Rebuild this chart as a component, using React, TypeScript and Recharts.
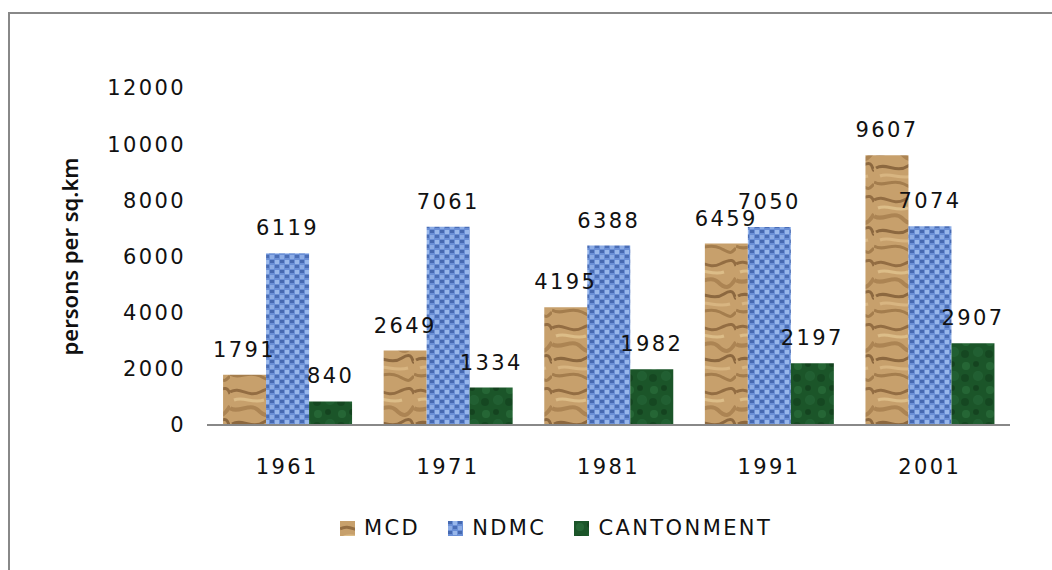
import { BarChart, Bar, XAxis, YAxis, Legend, LabelList } from 'recharts';

const years = ['1961', '1971', '1981', '1991', '2001'];
const mcd = [1791, 2649, 4195, 6459, 9607];
const ndmc = [6119, 7061, 6388, 7050, 7074];
const cantonment = [840, 1334, 1982, 2197, 2907];
const yTicks = [0, 2000, 4000, 6000, 8000, 10000, 12000];

const series = [
    { key: 'MCD', fill: 'url(#texMcd)' },
    { key: 'NDMC', fill: 'url(#texNdmc)' },
    { key: 'CANTONMENT', fill: 'url(#texCant)' },
];

const data = years.map((year, i) => ({
    year,
    MCD: mcd[i],
    NDMC: ndmc[i],
    CANTONMENT: cantonment[i],
}));

const FONT = '"DejaVu Sans", Verdana, sans-serif';
const textStyle = { fontFamily: FONT, fontSize: 21, fill: '#111', letterSpacing: 2.4 };

const Textures = () => (
    <defs>
        <pattern id="texMcd" patternUnits="userSpaceOnUse" width="46" height="64">
            <rect width="46" height="64" fill="#c7a06c" />
            <path d="M0 8 C10 2 18 14 30 8 S44 4 46 10" stroke="#7d5730" strokeWidth="3" fill="none" opacity="0.7" />
            <path d="M0 24 C8 30 20 18 28 26 S40 32 46 22" stroke="#9a7142" strokeWidth="4" fill="none" opacity="0.6" />
            <path d="M2 40 C12 34 22 46 34 38 S44 44 46 42" stroke="#6e4a26" strokeWidth="3" fill="none" opacity="0.65" />
            <path d="M0 54 C10 60 18 50 30 56 S40 62 46 56" stroke="#8c6538" strokeWidth="3" fill="none" opacity="0.6" />
            <path d="M4 16 C14 12 22 20 34 16" stroke="#e6c995" strokeWidth="3" fill="none" opacity="0.7" />
            <path d="M6 48 C16 44 26 52 40 48" stroke="#e2c38f" strokeWidth="3" fill="none" opacity="0.6" />
        </pattern>
        <pattern id="texNdmc" patternUnits="userSpaceOnUse" width="10" height="10">
            <rect width="10" height="10" fill="#6a8fd6" />
            <rect x="0" y="0" width="4" height="3" fill="#3d5fa8" opacity="0.8" />
            <rect x="5" y="5" width="4" height="3" fill="#3d5fa8" opacity="0.7" />
            <rect x="5" y="0" width="4" height="4" fill="#a4c0f0" opacity="0.8" />
            <rect x="0" y="5" width="4" height="4" fill="#9ab8ec" opacity="0.7" />
        </pattern>
        <pattern id="texCant" patternUnits="userSpaceOnUse" width="24" height="24">
            <rect width="24" height="24" fill="#1b5529" />
            <circle cx="6" cy="6" r="4" fill="#2b723d" opacity="0.6" />
            <circle cx="18" cy="16" r="5" fill="#286a3b" opacity="0.5" />
            <circle cx="16" cy="4" r="3" fill="#113c1b" opacity="0.7" />
            <circle cx="5" cy="18" r="4" fill="#12411e" opacity="0.7" />
        </pattern>
    </defs>
);

const renderLegend = () => (
    <div style={{ display: 'flex', alignItems: 'center', paddingLeft: 340, fontFamily: FONT, fontSize: 21, color: '#111', letterSpacing: 2.4 }}>
        {series.map((s) => (
            <div key={s.key} style={{ display: 'flex', alignItems: 'center', marginRight: 28 }}>
                <svg width="15" height="15" style={{ marginRight: 9 }}>
                    <rect width="15" height="15" fill={s.fill} />
                </svg>
                <span>{s.key}</span>
            </div>
        ))}
    </div>
);

export default function App() {
    return (
        <div style={{ position: 'fixed', left: 0, top: 0, width: 1052, height: 570, background: '#fff', overflow: 'hidden' }}>
            <div
                style={{
                    position: 'absolute',
                    left: 8,
                    top: 12,
                    width: 1100,
                    height: 620,
                    border: '2px solid #888',
                }}
            />
            <div style={{ position: 'absolute', left: 0, top: 0 }}>
                <BarChart
                    width={1052}
                    height={570}
                    data={data}
                    margin={{ top: 88, right: 42, left: 87, bottom: 30 }}
                    barCategoryGap="10%"
                    barGap={0}
                >
                    <Textures />
                    <XAxis
                        dataKey="year"
                        height={91}
                        tickLine={false}
                        axisLine={{ stroke: '#888', strokeWidth: 2 }}
                        tick={textStyle}
                        tickMargin={28}
                    />
                    <YAxis
                        width={120}
                        domain={[0, 12000]}
                        ticks={yTicks}
                        axisLine={false}
                        tickLine={false}
                        tick={textStyle}
                        tickMargin={15}
                        label={{
                            content: ({ viewBox }: any) => {
                                const cx = viewBox.x - 18;
                                const cy = viewBox.y + viewBox.height / 2;
                                return (
                                    <text
                                        x={cx}
                                        y={cy}
                                        transform={`rotate(-90, ${cx}, ${cy})`}
                                        textAnchor="middle"
                                        dominantBaseline="central"
                                        style={{ fontFamily: '"Noto Sans", sans-serif', fontSize: 22, fontWeight: 600, fill: '#111' }}
                                    >
                                        persons per sq.km
                                    </text>
                                );
                            },
                        }}
                    />
                    <Legend
                        verticalAlign="bottom"
                        content={renderLegend}
                        wrapperStyle={{ left: 0, width: 1052, height: 24 }}
                    />
                    {series.map((s) => (
                        <Bar key={s.key} dataKey={s.key} fill={s.fill} isAnimationActive={false}>
                            <LabelList dataKey={s.key} position="top" offset={18} style={textStyle} />
                        </Bar>
                    ))}
                </BarChart>
            </div>
        </div>
    );
}
